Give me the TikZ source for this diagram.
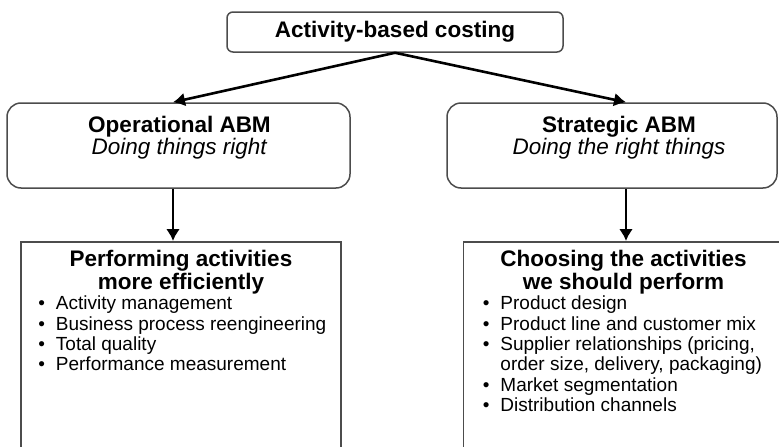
\documentclass[tikz,border=0pt]{standalone}
\usepackage{fontspec}
\setmainfont{Liberation Sans}
\usetikzlibrary{arrows.meta,positioning}
\newcommand{\abmitem}{\makebox[17.5pt][l]{\textbullet}}
\newcommand{\abmcont}{\hspace*{17.5pt}}
\tikzset{%
	topbox/.style   = {draw=black!70, line width=1.5pt, rounded corners=6pt, minimum width=336pt, minimum height=40pt, inner sep=0pt, font=\fontsize{22.5}{24}\selectfont\bfseries},
	ideabox/.style  = {draw=black!70, line width=1.5pt, rounded corners=14pt, minimum height=85pt},
	listbox/.style  = {draw=black!70, line width=1.5pt, minimum width=320pt, minimum height=230pt, anchor=north},
	headtext/.style = {align=center, inner sep=0pt, anchor=north, font=\fontsize{22.5}{23}\selectfont\bfseries},
	ideatext/.style = {align=center, inner sep=0pt, anchor=north, font=\fontsize{22.5}{22}\selectfont},
	itemtext/.style = {align=left, inner sep=0pt, anchor=north west, font=\fontsize{19}{20.3}\selectfont},
	arrow/.style    = {line width=2.6pt, -{Latex[length=12pt,width=14pt]}},
}
\begin{document}
\begin{tikzpicture}[x=1pt,y=-1pt]
	\useasboundingbox (0,0) rectangle (779,447);
	\clip (0,0) rectangle (779,447);
	
	\node[topbox] (abc) at (395,32) {Activity-based costing};
	
	% the two kinds of ABM
	\node[ideabox, minimum width=343pt] (op) at (178.5,145.5) {};
	\node[ideabox, minimum width=330pt] (st) at (612,145.5) {};
	\node[ideatext, xshift=1pt, yshift=-14pt] (optext) at (op.north) {\textbf{Operational ABM}\\\textit{Doing things right}};
	\node[ideatext, xshift=7pt, yshift=-14pt] (sttext) at (st.north) {\textbf{Strategic ABM}\\\textit{Doing the right things}};
	
	% what each one means
	\node[listbox] (perf) at (181,241) {};
	\node[listbox] (choose) at (623.5,241) {};
	\node[headtext, yshift=-8.5pt] (perfhead) at (perf.north) {Performing activities\\more efficiently};
	\node[headtext, yshift=-8.5pt] (choosehead) at (choose.north) {Choosing the activities\\we should perform};
	\node[itemtext, xshift=18pt, yshift=-55pt] (perflist) at (perf.north west) {%
		\abmitem Activity management\\
		\abmitem Business process reengineering\\
		\abmitem Total quality\\
		\abmitem Performance measurement};
	\node[itemtext, xshift=20pt, yshift=-55pt] (chooselist) at (choose.north west) {%
		\abmitem Product design\\
		\abmitem Product line and customer mix\\
		\abmitem Supplier relationships (pricing,\\
		\abmcont order size, delivery, packaging)\\
		\abmitem Market segmentation\\
		\abmitem Distribution channels};
	
	\draw[arrow] (abc.south) -- ([xshift=-5.5pt]op.north);
	\draw[arrow] (abc.south) -- ([xshift=14pt]st.north);
	\draw[arrow] ([xshift=-5.5pt]op.south) -- ([xshift=-5.5pt]op.south |- perf.north);
	\draw[arrow] ([xshift=14pt]st.south) -- ([xshift=14pt]st.south |- choose.north);
\end{tikzpicture}
\end{document}
